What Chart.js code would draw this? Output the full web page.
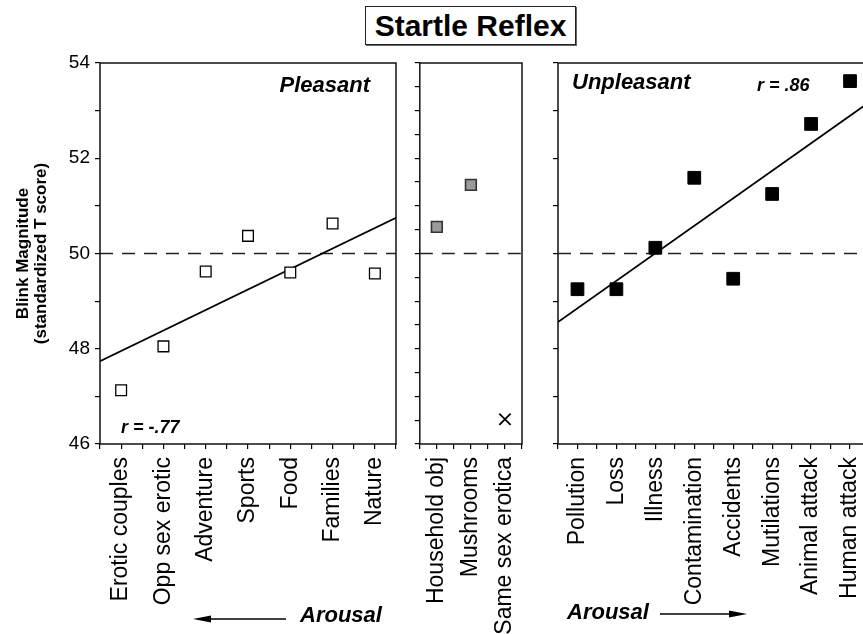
<!DOCTYPE html>
<html>
<head>
<meta charset="utf-8">
<script src="https://cdn.jsdelivr.net/npm/chart.js@4/dist/chart.umd.min.js"></script>
<style>
  html, body { margin: 0; padding: 0; background: #fff; width: 863px; height: 634px; overflow: hidden; }
  body { position: relative; font-family: "Liberation Sans", Arial, Helvetica, sans-serif; }
  canvas { position: absolute; top: 0; }
  #title {
    position: absolute; left: 365px; top: 6px; width: 209px; height: 37px;
    border: 1.5px solid #222; box-shadow: 1px 1px 0 #666;
    font-weight: bold; font-size: 30px; line-height: 37px; text-align: center;
  }
  .arousal { position: absolute; font-weight: bold; font-style: italic; font-size: 22px; line-height: 22px; }
  #arrows { position: absolute; left: 0; top: 0; }
</style>
</head>
<body>
<div id="title">Startle Reflex</div>
<canvas id="pleasant" width="410" height="634" style="left:0"></canvas>
<canvas id="neutral" width="130" height="634" style="left:410px"></canvas>
<canvas id="unpleasant" width="340" height="634" style="left:545px"></canvas>
<div class="arousal" style="left:300px; top:604px">Arousal</div>
<div class="arousal" style="left:567px; top:601px">Arousal</div>
<svg id="arrows" width="863" height="634">
  <line x1="286" y1="619" x2="205" y2="619" stroke="#000" stroke-width="1.5"/>
  <polygon points="193,619 211,615.5 211,622.5" fill="#000"/>
  <line x1="660" y1="614" x2="735" y2="614" stroke="#000" stroke-width="1.5"/>
  <polygon points="747,614 729,610.5 729,617.5" fill="#000"/>
</svg>
<script>
// categories and values
const pleasantLabels = ['Erotic couples', 'Opp sex erotic', 'Adventure', 'Sports', 'Food', 'Families', 'Nature'];
const pleasantValues = [47.13, 48.05, 49.62, 50.37, 49.60, 50.63, 49.58];
const pleasantFitX = [-0.5, 6.5];
const pleasantFitY = [47.74, 50.75];

const neutralLabels = ['Household obj', 'Mushrooms', 'Same sex erotica'];
const neutralValues = [50.56, 51.44, null];
const neutralX = [null, null, 46.52]; // drawn as an "x"

const unpleasantLabels = ['Pollution', 'Loss', 'Illness', 'Contamination', 'Accidents', 'Mutilations', 'Animal attack', 'Human attack'];
const unpleasantValues = [49.25, 49.25, 50.12, 51.59, 49.47, 51.25, 52.72, 53.62];
const unpleasantFitX = [-0.5, 7.5];
const unpleasantFitY = [48.56, 53.18];

const yLabels = [46, 48, 50, 52, 54];
const baseline = 50;

Chart.defaults.font.family = '"Liberation Sans", Arial, Helvetica, sans-serif';
Chart.defaults.color = '#000';

const framePlugin = {
  id: 'frame',
  beforeDatasetsDraw(chart) {
    const a = chart.chartArea, ctx = chart.ctx;
    ctx.save();
    ctx.strokeStyle = '#111';
    ctx.lineWidth = 1.5;
    ctx.strokeRect(a.left, a.top, a.right - a.left, a.bottom - a.top);
    ctx.restore();
  }
};

// text notes placed relative to the plot area
const notesPlugin = {
  id: 'notes',
  afterDatasetsDraw(chart, args, opts) {
    const a = chart.chartArea, ctx = chart.ctx;
    (opts.items || []).forEach(n => {
      ctx.save();
      ctx.font = n.font;
      ctx.fillStyle = '#000';
      ctx.textAlign = n.align;
      ctx.textBaseline = 'alphabetic';
      const x = n.align === 'right' ? a.right - n.dx : a.left + n.dx;
      const y = n.fromBottom ? a.bottom - n.dy : a.top + n.dy;
      ctx.fillText(n.text, x, y);
      ctx.restore();
    });
  }
};

function pts(values) {
  return values.map((v, i) => ({ x: i, y: v }));
}
function line(xs, ys) {
  return xs.map((x, i) => ({ x: x, y: ys[i] }));
}
function dashed(n) {
  return {
    data: [{ x: -0.5, y: baseline }, { x: n - 0.5, y: baseline }],
    showLine: true, borderColor: '#222', borderWidth: 1.3, borderDash: [13, 9], pointRadius: 0
  };
}

const tickGrid = { drawOnChartArea: false, drawTicks: true, tickLength: 5, color: '#000', lineWidth: 1.2 };

function makePanel(id, o) {
  return new Chart(document.getElementById(id), {
    type: 'scatter',
    data: { datasets: o.datasets },
    options: {
      responsive: false,
      animation: false,
      events: [],
      layout: { padding: { left: 0, top: 63, right: o.padRight, bottom: 0 } },
      plugins: {
        legend: { display: false },
        tooltip: { enabled: false },
        notes: { items: o.notes || [] }
      },
      scales: {
        x: {
          type: 'linear',
          min: -0.5,
          max: o.labels.length - 0.5,
          afterFit: s => { s.height = 190; s.paddingLeft = 0; s.paddingRight = 0; },
          grid: tickGrid,
          border: { display: false },
          ticks: {
            stepSize: 0.5, autoSkip: false, minRotation: 90, maxRotation: 90,
            padding: 8, font: { size: 23 }, color: '#000',
            callback: v => Number.isInteger(v) ? o.labels[v] : ''
          }
        },
        y: {
          min: 46,
          max: 54,
          afterFit: s => { s.width = o.yWidth; s.paddingTop = 0; s.paddingBottom = 0; },
          grid: tickGrid,
          border: { display: false },
          title: o.yTitle || { display: false },
          ticks: {
            stepSize: o.yStep, autoSkip: false, padding: 5, font: { size: 19 }, color: '#000',
            callback: o.yLabel
          }
        }
      }
    },
    plugins: [framePlugin, notesPlugin]
  });
}

makePanel('pleasant', {
  labels: pleasantLabels,
  padRight: 14,
  yWidth: 100,
  yStep: 1,
  yLabel: v => yLabels.includes(v) ? v : '',
  yTitle: {
    display: true,
    text: ['Blink Magnitude', '(standardized T score)'],
    font: { size: 17, weight: 'bold', lineHeight: 1.06 },
    padding: { top: 14, bottom: 0 },
    color: '#000'
  },
  notes: [
    { text: 'Pleasant', font: 'italic bold 22px "Liberation Sans", Arial, sans-serif', align: 'right', dx: 26, dy: 29 },
    { text: 'r = -.77', font: 'italic bold 18px "Liberation Sans", Arial, sans-serif', align: 'left', dx: 21, dy: 11, fromBottom: true }
  ],
  datasets: [
    { data: pts(pleasantValues), pointStyle: 'rect', pointRadius: 7.6, backgroundColor: '#fff', borderColor: '#000', borderWidth: 1.3 },
    { data: line(pleasantFitX, pleasantFitY), showLine: true, borderColor: '#000', borderWidth: 1.8, pointRadius: 0 },
    dashed(pleasantLabels.length)
  ]
});

makePanel('neutral', {
  labels: neutralLabels,
  padRight: 18,
  yWidth: 8,
  yStep: 0.5,
  yLabel: () => '',
  datasets: [
    { data: pts(neutralValues), pointStyle: 'rect', pointRadius: 7.6, backgroundColor: '#9a9a9a', borderColor: '#333', borderWidth: 1.6 },
    { data: pts(neutralX), pointStyle: 'crossRot', pointRadius: 8, borderColor: '#000', borderWidth: 1.8 },
    dashed(neutralLabels.length)
  ]
});

makePanel('unpleasant', {
  labels: unpleasantLabels,
  padRight: 15.5,
  yWidth: 13,
  yStep: 1,
  yLabel: () => '',
  notes: [
    { text: 'Unpleasant', font: 'italic bold 22px "Liberation Sans", Arial, sans-serif', align: 'left', dx: 14, dy: 26 },
    { text: 'r = .86', font: 'italic bold 18px "Liberation Sans", Arial, sans-serif', align: 'left', dx: 199, dy: 28 }
  ],
  datasets: [
    { data: pts(unpleasantValues), pointStyle: 'rect', pointRadius: 9, backgroundColor: '#000', borderColor: '#000', borderWidth: 1 },
    { data: line(unpleasantFitX, unpleasantFitY), showLine: true, borderColor: '#000', borderWidth: 1.8, pointRadius: 0 },
    dashed(unpleasantLabels.length)
  ]
});
</script>
</body>
</html>
